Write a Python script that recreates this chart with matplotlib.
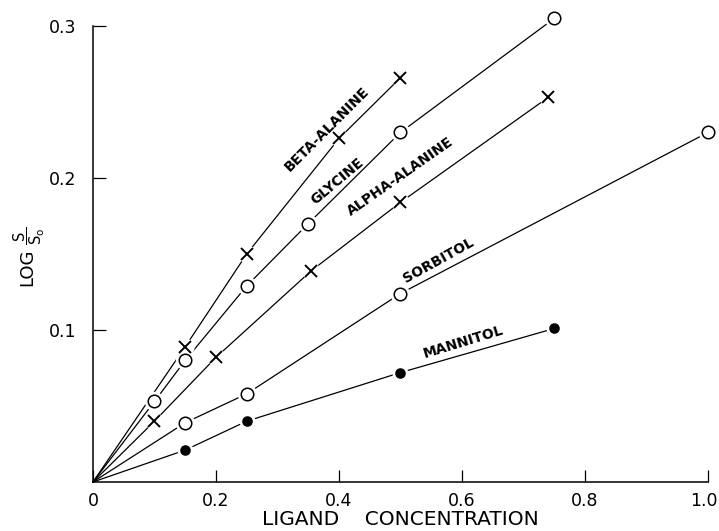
import matplotlib
matplotlib.use("Agg")
import matplotlib.pyplot as plt
from matplotlib.transforms import ScaledTranslation

# --- Data ---
beta_x = [0, 0.15, 0.25, 0.40, 0.50]
beta_y = [0, 0.089, 0.150, 0.226, 0.266]

gly_x = [0, 0.10, 0.15, 0.25, 0.35, 0.50, 0.75]
gly_y = [0, 0.053, 0.080, 0.129, 0.170, 0.230, 0.305]

alpha_x = [0, 0.10, 0.20, 0.355, 0.50, 0.74]
alpha_y = [0, 0.040, 0.082, 0.139, 0.184, 0.253]

sorb_x = [0, 0.15, 0.25, 0.50, 1.00]
sorb_y = [0, 0.039, 0.058, 0.124, 0.230]

mann_x = [0, 0.15, 0.25, 0.50, 0.75]
mann_y = [0, 0.021, 0.040, 0.072, 0.101]

x_ticks = [0, 0.2, 0.4, 0.6, 0.8, 1.0]
x_ticklabels = ["0", "0.2", "0.4", "0.6", "0.8", "1.0"]
y_ticks = [0.1, 0.2, 0.3]
y_ticklabels = ["0.1", "0.2", "0.3"]

# label text, anchor (data coords), rotation
labels = [
    ("BETA-ALANINE", 0.381, 0.232, 45),
    ("GLYCINE", 0.398, 0.198, 40),
    ("ALPHA-ALANINE", 0.499, 0.201, 35),
    ("SORBITOL", 0.562, 0.146, 29),
    ("MANNITOL", 0.602, 0.092, 17),
]

plt.rcParams['font.family'] = ['DejaVu Sans']
plt.rcParams['mathtext.default'] = 'regular'

fig = plt.figure(figsize=(7.19, 5.31), dpi=100)
ax = fig.add_axes([0.1293, 0.0923, 0.8554, 0.8587])

series = [
    (beta_x, beta_y, 'x', 'k', 8),
    (gly_x, gly_y, 'o', 'white', 9),
    (alpha_x, alpha_y, 'x', 'k', 8),
    (sorb_x, sorb_y, 'o', 'white', 9),
    (mann_x, mann_y, 'o', 'k', 6.5),
]

for xs, ys, mk, face, ms in series:
    ax.plot(xs, ys, color='k', lw=0.9, zorder=2, clip_on=False)
    # white halo so the line breaks around each point
    ax.plot(xs[1:], ys[1:], ls='none', marker='o', ms=ms + 5,
            mfc='white', mec='none', zorder=3, clip_on=False)
    ax.plot(xs[1:], ys[1:], ls='none', marker=mk, ms=ms,
            mfc=face, mec='k', mew=1.4 if mk == 'x' else 1.1, zorder=4,
            clip_on=False)

for txt, lx, ly, rot in labels:
    ax.text(lx, ly, txt, rotation=rot, rotation_mode='anchor',
            ha='center', va='center', fontsize=10, fontweight='bold',
            zorder=5)

ax.set_xlim(0, 1.0)
ax.set_ylim(0, 0.3)
ax.set_xticks(x_ticks)
ax.set_xticklabels(x_ticklabels)
ax.set_yticks(y_ticks)
ax.set_yticklabels(y_ticklabels)
ax.tick_params(direction='in', length=9, width=0.9, labelsize=12.5, pad=12)
ax.tick_params(axis='x', pad=7)

# nudge the "1.0" label so it stays inside the figure
last = ax.get_xticklabels()[-1]
last.set_transform(last.get_transform() + ScaledTranslation(-3 / 72, 0, fig.dpi_scale_trans))

for side in ['top', 'right']:
    ax.spines[side].set_visible(False)
for side in ['left', 'bottom']:
    ax.spines[side].set_linewidth(1.1)

ax.set_xlabel("LIGAND    CONCENTRATION", fontsize=14.5, labelpad=0)

# y label: "LOG" plus the S/So fraction above it
fig.text(27 / 719, 1 - 267 / 531, "LOG", rotation=90, fontsize=13,
         ha='center', va='center')
fig.text(29 / 719, 1 - 236 / 531, r"$\dfrac{S}{S_o}$", rotation=90,
         fontsize=10.5, ha='center', va='center')

fig.savefig("out.png", dpi=100)
